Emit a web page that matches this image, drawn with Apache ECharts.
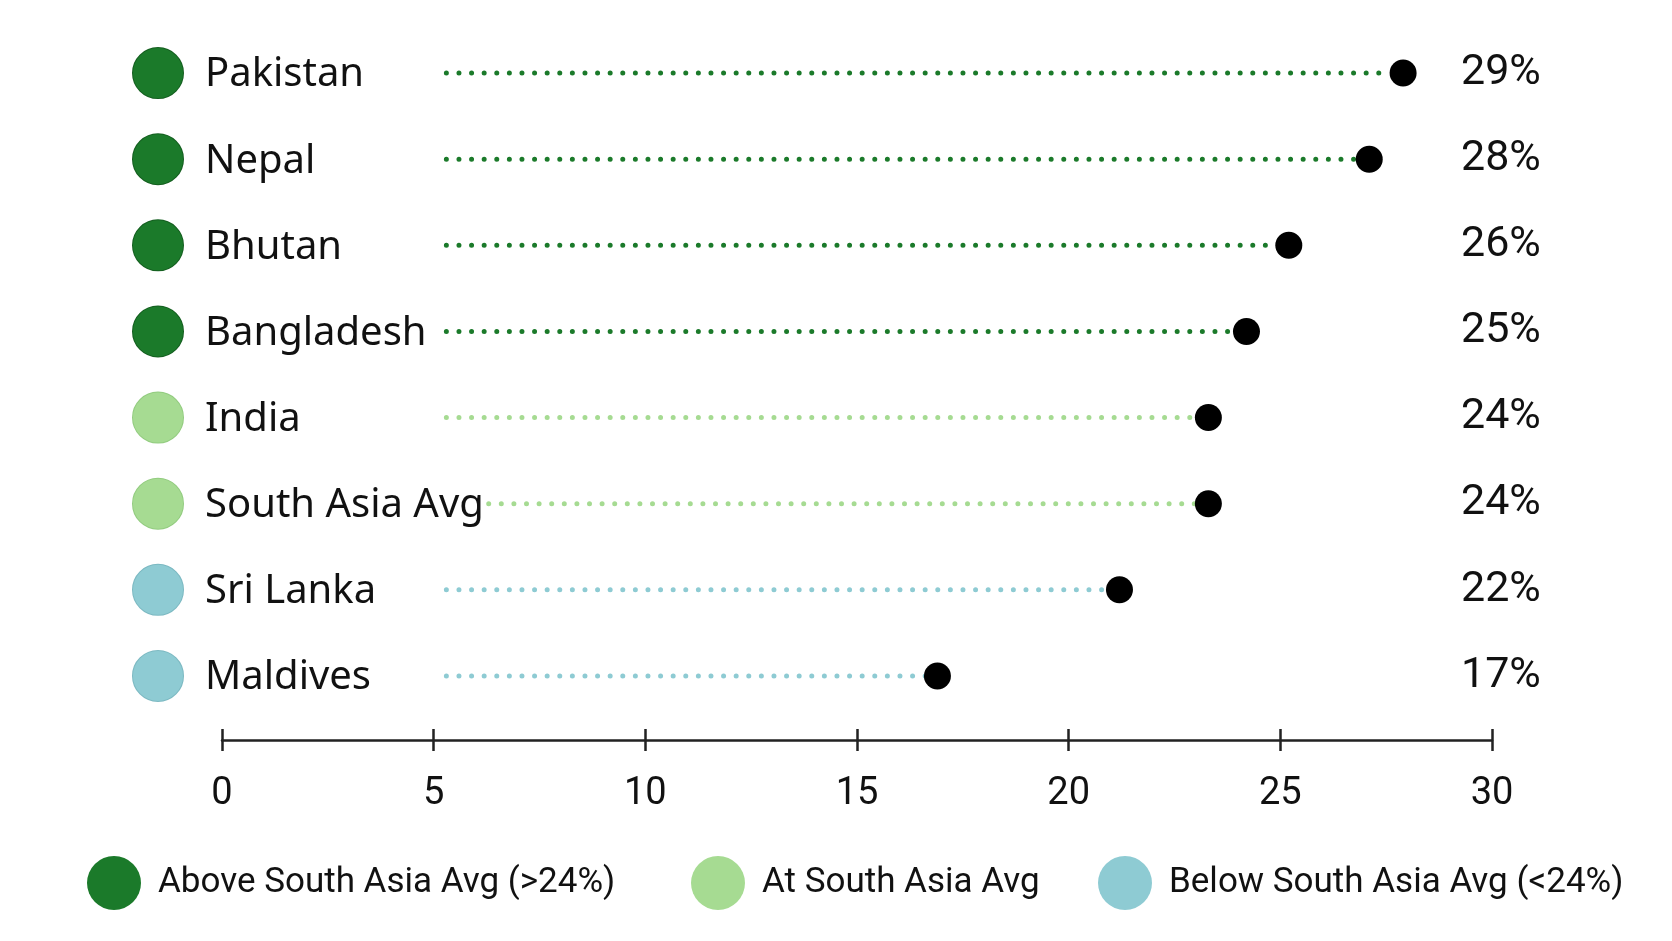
<!DOCTYPE html>
<html>
<head>
<meta charset="utf-8">
<script src="https://cdn.jsdelivr.net/npm/echarts@6.0.0/dist/echarts.min.js"></script>
<style>
  html, body { margin: 0; padding: 0; background: #fff; }
  #chart { width: 1672px; height: 941px; }
</style>
</head>
<body>
<div id="chart"></div>
<script>
const countries = ["Pakistan", "Nepal", "Bhutan", "Bangladesh", "India", "South Asia Avg", "Sri Lanka", "Maldives"];
// where each dot sits on the 0-30 axis
const dotValues = [27.9, 27.1, 25.2, 24.2, 23.3, 23.3, 21.2, 16.9];
// the printed labels on the right
const valueLabels = [29, 28, 26, 25, 24, 24, 22, 17];
// 0 = above avg, 1 = at avg, 2 = below avg
const groupOf = [0, 0, 0, 0, 1, 1, 2, 2];
const lineStart = [5.3, 5.3, 5.3, 5.3, 5.3, 6.3, 5.3, 5.3];
const xTicks = [0, 5, 10, 15, 20, 25, 30];

const groupNames = ["Above South Asia Avg (>24%)", "At South Asia Avg", "Below South Asia Avg (<24%)"];
const groupColors = ["#1b7a2a", "#a6db92", "#8ecbd3"];
const groupBorders = ["#155f20", "#93cc80", "#7cb9c2"];
const rowKeys = ["above", "at", "below"];

const chart = echarts.init(document.getElementById("chart"), null, { renderer: "canvas" });

function renderStem(params, api) {
  const a = api.coord([api.value(0), api.value(2)]);
  const b = api.coord([api.value(1), api.value(2)]);
  return {
    type: "line",
    shape: { x1: a[0], y1: a[1], x2: b[0] - 12, y2: b[1] },
    style: {
      stroke: api.visual("color"),
      lineWidth: 5,
      lineCap: "round",
      lineDash: [0, 12.6],
    },
  };
}

const stemSeries = groupNames.map((name, g) => ({
  name,
  type: "custom",
  xAxisIndex: 0,
  yAxisIndex: 0,
  itemStyle: { color: groupColors[g] },
  encode: { x: [0, 1], y: 2 },
  renderItem: renderStem,
  data: countries
    .map((c, i) => (groupOf[i] === g ? [lineStart[i], dotValues[i], i] : null))
    .filter(Boolean),
  z: 2,
}));

const rich = {};
rowKeys.forEach((k, g) => {
  rich[k] = {
    width: 50,
    height: 50,
    borderRadius: 25,
    backgroundColor: groupColors[g],
    borderColor: groupBorders[g],
    borderWidth: 1,
  };
});
rich.name = {
  fontFamily: "Noto Sans",
  fontSize: 40,
  color: "#111",
  padding: [4, 0, 0, 22],
};

const legendBase = {
  top: 851,
  icon: "circle",
  itemWidth: 54,
  itemHeight: 54,
  textStyle: { fontFamily: "Roboto", fontSize: 35, color: "#111", padding: [0, 0, 0, 12] },
};

const option = {
  backgroundColor: "#ffffff",
  animation: false,
  grid: { left: 222, right: 180, top: 30, height: 689 },
  legend: [
    { ...legendBase, left: 82, data: [groupNames[0]] },
    { ...legendBase, left: 686, data: [groupNames[1]] },
    { ...legendBase, left: 1093, data: [groupNames[2]] },
  ],
  xAxis: [
    {
      type: "value",
      min: xTicks[0],
      max: xTicks[xTicks.length - 1],
      interval: 5,
      position: "bottom",
      offset: 21,
      axisLine: { show: true, lineStyle: { color: "#222", width: 2.5 } },
      axisTick: { show: true, length: 11, lineStyle: { color: "#222", width: 2.5 } },
      axisLabel: { fontFamily: "Roboto", fontSize: 38, color: "#111", margin: 35 },
      splitLine: { show: false },
    },
    {
      type: "value",
      min: xTicks[0],
      max: xTicks[xTicks.length - 1],
      interval: 5,
      position: "bottom",
      offset: 21,
      axisLine: { show: false },
      axisTick: { show: true, inside: true, length: 11, lineStyle: { color: "#222", width: 2.5 } },
      axisLabel: { show: false },
      splitLine: { show: false },
    },
  ],
  yAxis: [
    {
      type: "category",
      data: countries,
      inverse: true,
      axisLine: { show: false },
      axisTick: { show: false },
      axisLabel: {
        align: "left",
        margin: 89,
        formatter: (v, i) => `{${rowKeys[groupOf[i]]}|}{name|${v}}`,
        rich,
      },
    },
    {
      type: "category",
      data: countries,
      inverse: true,
      position: "right",
      axisLine: { show: false },
      axisTick: { show: false },
      axisLabel: {
        align: "left",
        margin: -31,
        padding: [8, 0, 0, 0],
        fontFamily: "Roboto",
        fontSize: 43,
        color: "#111",
        formatter: (v, i) => `${valueLabels[i]}%`,
      },
    },
  ],
  series: [
    ...stemSeries,
    {
      name: "dots",
      type: "scatter",
      xAxisIndex: 0,
      yAxisIndex: 0,
      symbol: "circle",
      symbolSize: 27,
      itemStyle: { color: "#000000", opacity: 1 },
      data: dotValues.map((v, i) => [v, countries[i]]),
      z: 3,
    },
  ],
};

chart.setOption(option);
</script>
</body>
</html>
